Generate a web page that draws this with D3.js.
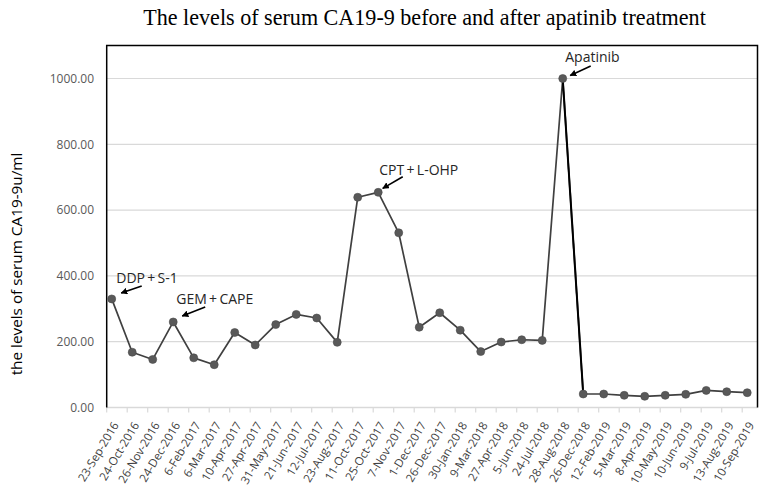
<!DOCTYPE html>
<html>
<head>
<meta charset="utf-8">
<script src="https://cdn.jsdelivr.net/npm/d3@7"></script>
<style>
  body { margin: 0; background: #fff; }
  svg { display: block; }
</style>
</head>
<body>
<svg id="chart" width="765" height="492"></svg>
<script>
const categories = ["23-Sep-2016","24-Oct-2016","26-Nov-2016","24-Dec-2016","6-Feb-2017","6-Mar-2017","10-Apr-2017","27-Apr-2017","31-May-2017","21-Jun-2017","12-Jul-2017","23-Aug-2017","11-Oct-2017","25-Oct-2017","7-Nov-2017","1-Dec-2017","26-Dec-2017","30-Jan-2018","9-Mar-2018","27-Apr-2018","5-Jun-2018","24-Jul-2018","28-Aug-2018","26-Dec-2018","12-Feb-2019","5-Mar-2019","8-Apr-2019","10-May-2019","10-Jun-2019","9-Jul-2019","13-Aug-2019","10-Sep-2019"];
const values = [330,168,146,260,151,130,228,190,252,283,272,198,639,654,531,244,288,235,170,199,206,204,1000,41,41,37,34,37,40,52,48,45];
const yTicks = [0,200,400,600,800,1000];
const annotationLabels = ["DDP\u2009+\u2009S-1","GEM\u2009+\u2009CAPE","CPT\u2009+\u2009L-OHP","Apatinib"];
const annotationIndex = [0,3,13,22];

(function () {
const svg = d3.select("#chart");
const font = "'Open Sans', 'Noto Sans', sans-serif";

const pLeft = 106.7, pBottom = 407.5, pTop = 45.6, pRight = 757.5;
const step = 20.5;
const x = d3.scaleBand().domain(categories).range([pLeft, pLeft + step * categories.length]).padding(0);
const y = d3.scaleLinear().domain([0, 1100]).range([pBottom, pTop]);
const px = d => x(d) + x.bandwidth() * 0.245;

// title
svg.append("text")
  .attr("x", 424.5).attr("y", 24.5)
  .attr("text-anchor", "middle")
  .attr("font-family", "'Liberation Serif', 'Times New Roman', serif")
  .attr("font-size", 22.1)
  .attr("fill", "#000")
  .text("The levels of serum CA19-9 before and after apatinib treatment");

// gridlines
svg.append("g").selectAll("line")
  .data(yTicks.filter(t => t > 0))
  .join("line")
  .attr("x1", pLeft).attr("x2", pRight)
  .attr("y1", d => y(d)).attr("y2", d => y(d))
  .attr("stroke", "#d9d9d9").attr("stroke-width", 1.2);

// y axis labels
const yAxis = d3.axisLeft(y).tickValues(yTicks).tickFormat(d3.format(".2f")).tickSize(0).tickPadding(12.7);
const gy = svg.append("g").attr("transform", `translate(${pLeft},0)`).call(yAxis);
gy.select(".domain").remove();
gy.selectAll("text").attr("font-family", font).attr("font-size", 12).attr("fill", "#595959");

// x axis ticks
const xAxis = d3.axisBottom(x).tickSize(5).tickFormat("");
const gx = svg.append("g").attr("transform", `translate(0,${pBottom})`).call(xAxis);
gx.select(".domain").remove();
gx.selectAll(".tick").attr("transform", d => `translate(${x(d)},0)`);
gx.selectAll(".tick line").attr("stroke", "#d9d9d9").attr("stroke-width", 1.2);
svg.append("line").attr("x1", pLeft).attr("x2", pRight).attr("y1", pBottom).attr("y2", pBottom)
  .attr("stroke", "#d9d9d9").attr("stroke-width", 1.5);

// x labels
svg.append("g").selectAll("text")
  .data(categories)
  .join("text")
  .attr("transform", d => `translate(${px(d) + 7.5},${pBottom + 17.5}) rotate(-59)`)
  .attr("text-anchor", "end")
  .attr("font-family", font)
  .attr("font-size", 11.6)
  .attr("fill", "#404040")
  .text(d => d);

// frame (left, top, right)
svg.append("path")
  .attr("d", `M${pLeft},${pBottom}V${pTop}H${pRight}V${pBottom}`)
  .attr("fill", "none").attr("stroke", "#000").attr("stroke-width", 1.5);

// y axis title
svg.append("text")
  .attr("transform", `translate(22,264) rotate(-90)`)
  .attr("text-anchor", "middle")
  .attr("font-family", font)
  .attr("font-size", 15.3)
  .attr("fill", "#000")
  .text("the levels of serum CA19-9u/ml");

// line
const pts = categories.map((c, i) => [px(c), y(values[i])]);
const line = d3.line();
svg.append("path")
  .attr("d", line(pts))
  .attr("fill", "none").attr("stroke", "#404040").attr("stroke-width", 1.7).attr("stroke-linejoin", "round");
svg.append("path")
  .attr("d", line(pts.slice(22, 24)))
  .attr("fill", "none").attr("stroke", "#000").attr("stroke-width", 2);

// markers
svg.append("g").selectAll("circle")
  .data(categories)
  .join("circle")
  .attr("cx", d => px(d))
  .attr("cy", (d, i) => y(values[i]))
  .attr("r", 4)
  .attr("fill", "#595959")
  .attr("stroke", "#4a4a4a").attr("stroke-width", 0.6);

// annotations
const defs = svg.append("defs");
defs.append("marker").attr("id", "arr").attr("viewBox", "0 0 10 10")
  .attr("refX", 9).attr("refY", 5).attr("markerWidth", 4.2).attr("markerHeight", 4.2)
  .attr("markerUnits", "strokeWidth").attr("orient", "auto")
  .append("path").attr("d", "M0,0L10,5L0,10Z").attr("fill", "#000");

const annOffsets = [
  {tx: 4.5, ty: -21, ax1: 30, ay1: -13, ax2: 9.5, ay2: -6},
  {tx: 3, ty: -23, ax1: 32, ay1: -15, ax2: 9, ay2: -6},
  {tx: 1, ty: -23, ax1: 24.5, ay1: -15.6, ax2: 4.5, ay2: -4},
  {tx: 2.5, ty: -22, ax1: 28, ay1: -12.5, ax2: 7.5, ay2: -3}
];
annotationLabels.forEach((lab, k) => {
  const i = annotationIndex[k];
  const cx = px(categories[i]), cy = y(values[i]);
  const o = annOffsets[k];
  svg.append("text")
    .attr("x", cx + o.tx).attr("y", cy + o.ty)
    .attr("dominant-baseline", "central")
    .attr("font-family", font)
    .attr("font-size", 14)
    .attr("fill", "#262626")
    .text(lab);
  svg.append("line")
    .attr("x1", cx + o.ax1).attr("y1", cy + o.ay1)
    .attr("x2", cx + o.ax2).attr("y2", cy + o.ay2)
    .attr("stroke", "#000").attr("stroke-width", 1.6)
    .attr("marker-end", "url(#arr)");
});
})();
</script>
</body>
</html>
